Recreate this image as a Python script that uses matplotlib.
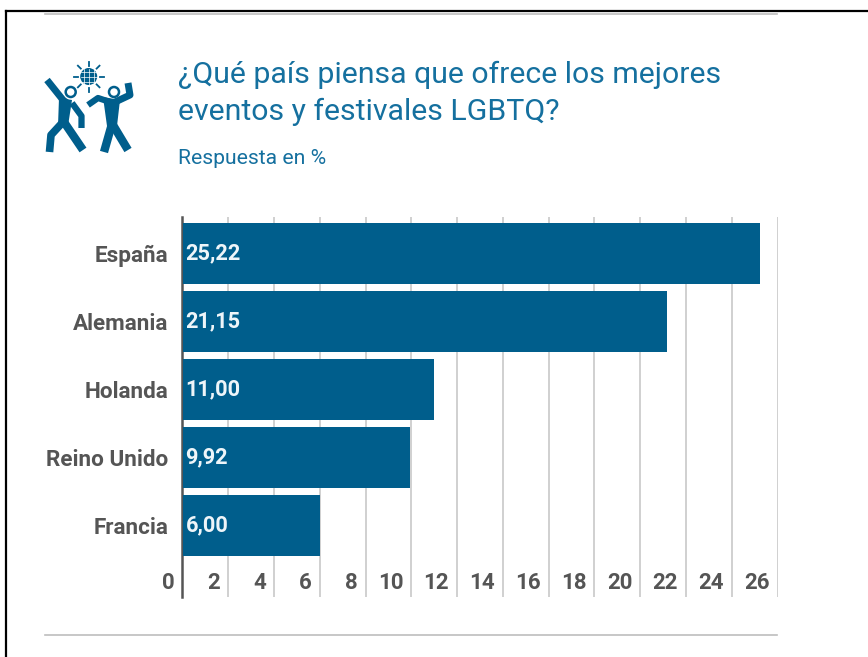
import matplotlib
matplotlib.use("Agg")
import matplotlib.pyplot as plt
from matplotlib.patches import Circle, Polygon

plt.rcParams['font.family'] = ['Roboto', 'DejaVu Sans']

paises = ['España', 'Alemania', 'Holanda', 'Reino Unido', 'Francia']
valores = [25.22, 21.15, 11.00, 9.92, 6.00]
etiquetas = ['25,22', '21,15', '11,00', '9,92', '6,00']
ticks = list(range(0, 28, 2))
titulo = '¿Qué país piensa que ofrece los mejores\neventos y festivales LGBTQ?'
subtitulo = 'Respuesta en %'

AZUL = '#005e8c'
AZUL_TXT = '#15709f'
GRIS = '#555555'
W, H = 868, 657

fig = plt.figure(figsize=(W / 100, H / 100), dpi=100)

# overlay in pixel coords for frame, rules, icon and titles
bg = fig.add_axes([0, 0, 1, 1])
bg.set_xlim(0, W)
bg.set_ylim(H, 0)
bg.axis('off')

bg.plot([6, 6], [11, H], color='black', lw=1.6)
bg.plot([6, W], [11, 11], color='black', lw=1.6)
bg.plot([45, 777], [13.5, 13.5], color='#bdbdbd', lw=1.2)
bg.plot([45, 777], [635, 635], color='#bdbdbd', lw=1.2)

lineas = titulo.split('\n')
bg.text(178, 75, lineas[0], fontsize=21.8, color=AZUL_TXT, va='center', ha='left')
bg.text(178, 112, lineas[1], fontsize=21.8, color=AZUL_TXT, va='center', ha='left')
bg.text(178, 158, subtitulo, fontsize=15.2, color=AZUL_TXT, va='center', ha='left')

# icon: two dancers and a disco ball
limbs = [
    ([47, 63, 67], [80, 100, 103], 5),
    ([72, 81.5, 81.5], [103, 116, 128], 4.5),
    ([63, 51, 49.5], [122, 135, 152], 5.5),
    ([64, 83], [122, 150], 6),
    ([88, 98, 113], [105, 98, 103], 4.5),
    ([113, 130, 128], [103, 95, 83], 5),
    ([112.5, 104], [122, 152], 6),
    ([113, 128], [125, 150], 6),
]
for xs, ys, lw in limbs:
    bg.plot(xs, ys, color=AZUL, lw=lw, solid_capstyle='butt', solid_joinstyle='round')
bg.add_patch(Polygon([(59, 98), (72, 100), (68, 126), (58, 126)], fc=AZUL, ec='none'))
bg.add_patch(Polygon([(103, 97), (120, 100), (117, 126), (107, 126)], fc=AZUL, ec='none'))
for cx in (70.7, 114):
    bg.add_patch(Circle((cx, 92), 5, fc='white', ec=AZUL, lw=1.8))

bg.add_patch(Circle((88.7, 76.5), 8.5, fc=AZUL, ec='none'))
for d in (-5, 0, 5):
    bg.plot([80.5, 97], [76.5 + d, 76.5 + d], color='white', lw=0.5)
    bg.plot([88.7 + d, 88.7 + d], [68.5, 84.5], color='white', lw=0.5)
rays = [(0, -1), (0.72, -0.72), (1, 0), (0.72, 0.72), (0, 1), (-0.72, 0.72), (-1, 0), (-0.72, -0.72)]
for dx, dy in rays:
    bg.plot([88.7 + 11 * dx, 88.7 + 15 * dx], [76.5 + 11 * dy, 76.5 + 15 * dy], color=AZUL, lw=1.3)

# bar chart, axes spans x 182.5..777.5 and y 217..597 in pixels
ax = fig.add_axes([182.5 / W, 1 - 597 / H, 595 / W, 380 / H])
ax.patch.set_alpha(0)
ax.set_xlim(0, 26)
ax.set_ylim(5.05, -0.537)
ax.barh(range(len(paises)), valores, height=61 / 68, color=AZUL, zorder=3)
ax.vlines(ticks[1:], 0, 1, transform=ax.get_xaxis_transform(), color='#c4c4c4', lw=1.1, zorder=1)

for s in ax.spines.values():
    s.set_visible(False)
ax.spines['left'].set_visible(True)
ax.spines['left'].set_color(GRIS)
ax.spines['left'].set_linewidth(1.8)
ax.spines['left'].set_position(('outward', 0.7))
ax.set_xticks([])
ax.set_yticks(range(len(paises)))
ax.set_yticklabels(paises, fontsize=16.2, fontweight='bold', color=GRIS)
ax.tick_params(axis='y', length=0, pad=9.5)

for i, lab in enumerate(etiquetas):
    ax.annotate(lab, (0, i), xytext=(3, 0), textcoords='offset pixels', fontsize=15.7,
                fontweight='bold', color='#eef5f9', va='center', ha='left', zorder=6)

for t in ticks:
    ax.annotate(str(t), (t, 0), xycoords=('data', 'axes fraction'), xytext=(-8, 14),
                textcoords='offset pixels', fontsize=16, fontweight='bold', color=GRIS,
                va='center', ha='right', annotation_clip=False)

fig.savefig('out.png', dpi=100)
